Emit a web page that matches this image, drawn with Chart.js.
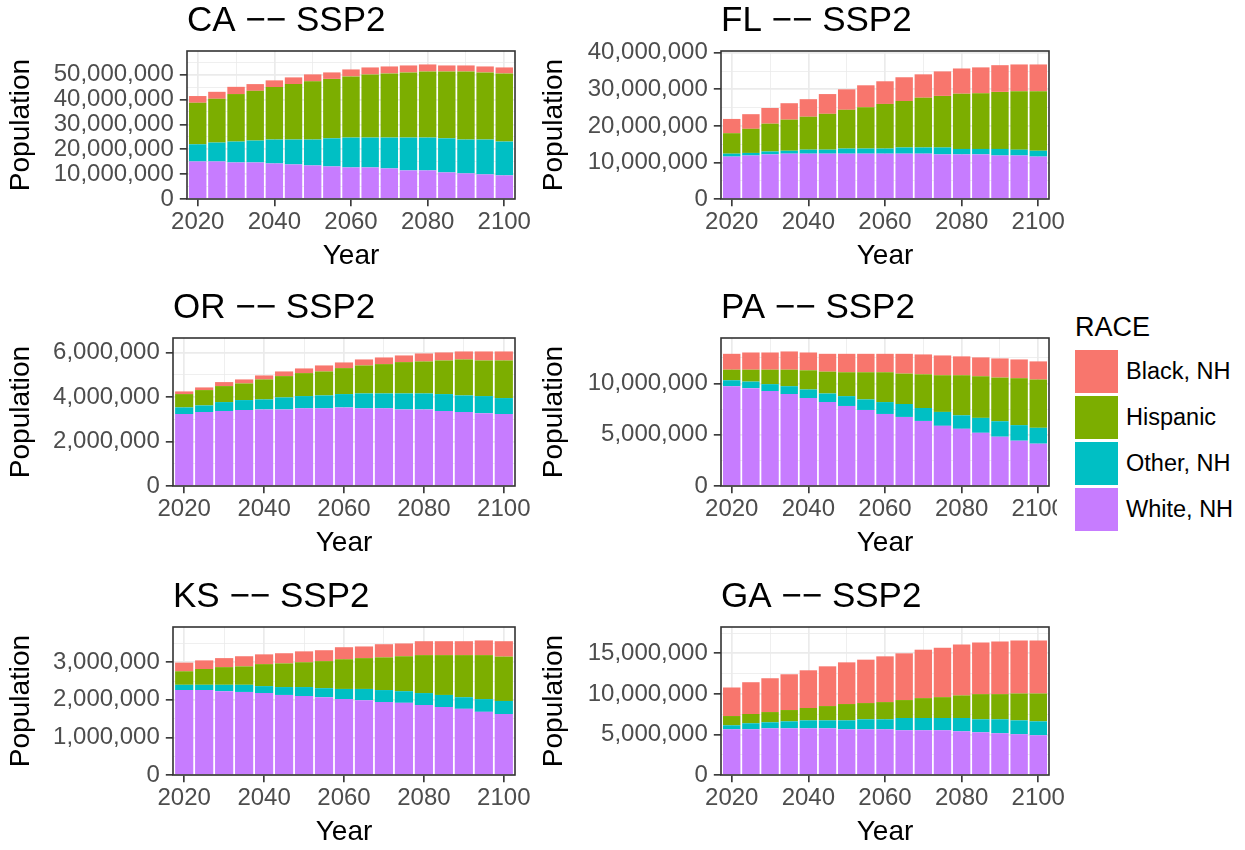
<!DOCTYPE html>
<html>
<head>
<meta charset="utf-8">
<script src="https://cdn.jsdelivr.net/npm/chart.js@4/dist/chart.umd.min.js"></script>
<style>
  html, body { margin:0; padding:0; background:#ffffff; width:1245px; height:850px; overflow:hidden; position:relative;
    font-family:"Liberation Sans", Arial, Helvetica, sans-serif; }
  .panel { position:absolute; overflow:hidden; }
  .panel canvas { display:block; }
  #legend { position:absolute; left:1075px; top:314px; color:#000; }
  #legend .ttl { font-size:27px; line-height:27px; height:27px; margin-bottom:9px; }
  #legend .row { display:flex; align-items:center; height:43px; margin-bottom:3px; }
  #legend .key { width:43px; height:43px; }
  #legend .lab { font-size:23.5px; line-height:43px; margin-left:8px; white-space:nowrap; }
</style>
</head>
<body>
<div id="legend"></div>
<script>
// ---------------- DATA ----------------
const YEARS = [2020, 2025, 2030, 2035, 2040, 2045, 2050, 2055, 2060, 2065, 2070, 2075, 2080, 2085, 2090, 2095, 2100];
const X_TICKS = [2020, 2040, 2060, 2080, 2100];
const RACES = ['Black, NH', 'Hispanic', 'Other, NH', 'White, NH'];
const RACE_COLORS = ['#F8766D', '#7CAE00', '#00BFC4', '#C77CFF'];

const CA_WHITE    = [15100000,15100000,14700000,14700000,14300000,13900000,13500000,13100000,12700000,12700000,12300000,11500000,11500000,10700000,10300000,9900000,9500000];
const CA_OTHER    = [6900000,7600000,8400000,8800000,9600000,10000000,10400000,11300000,12000000,12000000,12400000,13200000,13200000,13700000,13600000,14000000,13600000];
const CA_HISPANIC = [16700000,17600000,19100000,20000000,21100000,22300000,23400000,23900000,24600000,25400000,25800000,26200000,26600000,26900000,27400000,27000000,27400000];
const CA_BLACK    = [2700000,2800000,2900000,2700000,2700000,2700000,2800000,2600000,2800000,2800000,2800000,2800000,2800000,2400000,2400000,2400000,2400000];
const CA_Y_TICKS  = [0, 10000000, 20000000, 30000000, 40000000, 50000000];

const FL_WHITE    = [11600000,11900000,12200000,12400000,12400000,12400000,12400000,12400000,12400000,12400000,12400000,12200000,12200000,12200000,11900000,11900000,11600000];
const FL_OTHER    = [800000,700000,800000,800000,1100000,1100000,1400000,1400000,1400000,1700000,1700000,1900000,1500000,1500000,1800000,1600000,1600000];
const FL_HISPANIC = [5600000,6600000,7600000,8500000,9000000,9800000,10600000,11300000,12200000,12700000,13600000,14100000,15100000,15200000,15600000,16000000,16300000];
const FL_BLACK    = [3900000,4000000,4300000,4500000,4800000,5400000,5600000,6000000,6200000,6500000,6400000,6700000,6900000,7100000,7300000,7300000,7300000];
const FL_Y_TICKS  = [0, 10000000, 20000000, 30000000, 40000000];

const OR_WHITE    = [3240000,3330000,3375000,3420000,3450000,3450000,3500000,3500000,3540000,3500000,3500000,3450000,3450000,3375000,3330000,3280000,3240000];
const OR_OTHER    = [300000,300000,405000,450000,450000,540000,550000,580000,600000,670000,670000,720000,720000,765000,750000,770000,720000];
const OR_HISPANIC = [600000,690000,720000,750000,900000,960000,1035000,1080000,1170000,1260000,1320000,1410000,1440000,1515000,1620000,1605000,1695000];
const OR_BLACK    = [120000,120000,180000,180000,180000,210000,210000,270000,255000,270000,300000,300000,360000,360000,360000,405000,405000];
const OR_Y_TICKS  = [0, 2000000, 4000000, 6000000];

const PA_WHITE    = [9740000,9550000,9260000,8970000,8580000,8190000,7810000,7420000,7030000,6740000,6350000,5870000,5580000,5190000,4810000,4420000,4130000];
const PA_OTHER    = [580000,640000,680000,770000,840000,840000,960000,1030000,1160000,1260000,1260000,1360000,1320000,1460000,1510000,1520000,1550000];
const PA_HISPANIC = [1030000,1160000,1410000,1610000,1870000,2130000,2330000,2650000,2910000,2970000,3290000,3580000,3910000,4060000,4260000,4580000,4710000];
const PA_BLACK    = [1550000,1680000,1680000,1780000,1740000,1740000,1800000,1800000,1800000,1930000,1940000,1930000,1840000,1840000,1870000,1830000,1770000];
const PA_Y_TICKS  = [0, 5000000, 10000000];

const KS_WHITE    = [2260000,2260000,2230000,2210000,2180000,2130000,2100000,2070000,2020000,1990000,1940000,1920000,1860000,1810000,1760000,1680000,1620000];
const KS_OTHER    = [140000,140000,170000,190000,185000,210000,240000,240000,270000,300000,320000,310000,320000,320000,310000,340000,350000];
const KS_HISPANIC = [360000,420000,470000,490000,585000,630000,660000,720000,790000,820000,870000,930000,1010000,1060000,1120000,1170000,1180000];
const KS_BLACK    = [230000,230000,240000,270000,260000,270000,290000,290000,320000,310000,350000,340000,370000,370000,370000,390000,410000];
const KS_Y_TICKS  = [0, 1000000, 2000000, 3000000];

const GA_WHITE    = [5640000,5640000,5760000,5760000,5760000,5760000,5640000,5640000,5640000,5520000,5520000,5520000,5390000,5270000,5150000,5030000,4900000];
const GA_OTHER    = [490000,740000,740000,860000,980000,980000,1100000,1230000,1230000,1510000,1510000,1510000,1640000,1600000,1720000,1710000,1720000];
const GA_HISPANIC = [1140000,1140000,1260000,1390000,1520000,1760000,2010000,2000000,2120000,2210000,2450000,2570000,2780000,3100000,3100000,3310000,3430000];
const GA_BLACK    = [3520000,3920000,4170000,4410000,4650000,4900000,5140000,5350000,5640000,5760000,5970000,6090000,6290000,6380000,6500000,6540000,6540000];
const GA_Y_TICKS  = [0, 5000000, 10000000, 15000000];

// ---------------- LAYOUT / STYLE ----------------
Chart.defaults.font.family = '"Liberation Sans", Arial, Helvetica, sans-serif';
Chart.defaults.animation = false;

const GRID = '#EBEBEB', DARK = '#333333', TICK_TXT = '#4D4D4D';
const CANVAS_H = 274, X_MIN = 2017.2, X_MAX = 2102.8, PAD_R = 23;

const PANELS = [
  {title:'CA \u2212\u2212 SSP2', s:[CA_WHITE, CA_OTHER, CA_HISPANIC, CA_BLACK], yTicks:CA_Y_TICKS, left:0,   top:-1,  right:515,  yw:187},
  {title:'FL \u2212\u2212 SSP2', s:[FL_WHITE, FL_OTHER, FL_HISPANIC, FL_BLACK], yTicks:FL_Y_TICKS, left:533, top:-1,  right:1049, yw:188},
  {title:'OR \u2212\u2212 SSP2', s:[OR_WHITE, OR_OTHER, OR_HISPANIC, OR_BLACK], yTicks:OR_Y_TICKS, left:0,   top:286, right:515,  yw:173},
  {title:'PA \u2212\u2212 SSP2', s:[PA_WHITE, PA_OTHER, PA_HISPANIC, PA_BLACK], yTicks:PA_Y_TICKS, left:533, top:286, right:1049, yw:188, clipRight:1057},
  {title:'KS \u2212\u2212 SSP2', s:[KS_WHITE, KS_OTHER, KS_HISPANIC, KS_BLACK], yTicks:KS_Y_TICKS, left:0,   top:575, right:515,  yw:173},
  {title:'GA \u2212\u2212 SSP2', s:[GA_WHITE, GA_OTHER, GA_HISPANIC, GA_BLACK], yTicks:GA_Y_TICKS, left:533, top:575, right:1049, yw:188},
];

// stacking order bottom -> top : White, Other, Hispanic, Black
const STACK_ORDER = [3, 2, 1, 0];

const panelBorder = {
  id: 'panelBorder',
  afterDatasetsDraw(chart) {
    const {ctx, chartArea: a} = chart;
    ctx.save();
    ctx.strokeStyle = DARK;
    ctx.lineWidth = 1.6;
    ctx.strokeRect(a.left, a.top, a.right - a.left, a.bottom - a.top);
    ctx.restore();
  }
};

PANELS.forEach(p => {
  const cw = p.right + PAD_R - p.left;
  const wrap = document.createElement('div');
  wrap.className = 'panel';
  wrap.style.left = p.left + 'px';
  wrap.style.top = p.top + 'px';
  wrap.style.width = ((p.clipRight ? p.clipRight - p.left : cw)) + 'px';
  wrap.style.height = CANVAS_H + 'px';
  const cv = document.createElement('canvas');
  cv.width = cw; cv.height = CANVAS_H;
  cv.style.width = cw + 'px'; cv.style.height = CANVAS_H + 'px';
  wrap.appendChild(cv);
  document.body.appendChild(wrap);

  const totals = YEARS.map((_, i) => p.s.reduce((acc, arr) => acc + arr[i], 0));
  const yMax = Math.max(...totals) * 1.1;
  const yStep = p.yTicks[1] - p.yTicks[0];
  const xStep = X_TICKS[1] - X_TICKS[0];
  const yMajor = v => p.yTicks.includes(v);
  const xMajor = v => X_TICKS.includes(v);

  const datasets = STACK_ORDER.map((ri, k) => ({
    label: RACES[ri],
    data: YEARS.map((yr, i) => ({x: yr, y: p.s[k][i]})),
    backgroundColor: RACE_COLORS[ri],
    borderWidth: 0,
    barPercentage: 0.91,
    categoryPercentage: 1.0
  }));

  new Chart(cv, {
    type: 'bar',
    data: { datasets },
    plugins: [panelBorder],
    options: {
      responsive: false,
      animation: false,
      layout: { padding: { left: 0, top: 0, right: PAD_R, bottom: 0 } },
      plugins: {
        legend: { display: false },
        tooltip: { enabled: false },
        title: {
          display: true, text: p.title, align: 'start', fullSize: false, color: '#000000',
          font: { size: 35, weight: 'normal', lineHeight: 1.2 },
          padding: { top: 1, bottom: 9 }
        }
      },
      scales: {
        x: {
          type: 'linear', min: X_MIN, max: X_MAX, offset: false, stacked: true,
          afterBuildTicks: s => {
            const t = [];
            for (let v = X_TICKS[0]; v <= X_TICKS[X_TICKS.length - 1]; v += xStep / 2) t.push({value: v});
            s.ticks = t;
          },
          grid: {
            offset: false, drawTicks: true, tickLength: 7.2, tickWidth: 1.6,
            color: GRID,
            lineWidth: c => (c.tick && xMajor(c.tick.value)) ? 1.7 : 0.8,
            tickColor: c => (c.tick && xMajor(c.tick.value)) ? DARK : 'rgba(0,0,0,0)'
          },
          border: { display: false },
          ticks: {
            autoSkip: false, maxRotation: 0, minRotation: 0, padding: 2, color: TICK_TXT,
            font: { size: 24 },
            callback: v => xMajor(v) ? String(v) : ''
          },
          title: { display: true, text: 'Year', color: '#000000', font: { size: 28, lineHeight: 1.2 }, padding: { top: 0, bottom: 0 } },
          afterFit: s => { s.height = 74; }
        },
        y: {
          type: 'linear', min: 0, max: yMax, stacked: true,
          afterBuildTicks: s => {
            const t = [];
            for (let v = 0; v <= yMax; v += yStep / 2) t.push({value: v});
            s.ticks = t;
          },
          grid: {
            drawTicks: true, tickLength: 7.2, tickWidth: 1.6,
            color: GRID,
            lineWidth: c => (c.tick && yMajor(c.tick.value)) ? 1.7 : 0.8,
            tickColor: c => (c.tick && yMajor(c.tick.value)) ? DARK : 'rgba(0,0,0,0)'
          },
          border: { display: false },
          ticks: {
            autoSkip: false, padding: 6, color: TICK_TXT,
            font: { size: 24 },
            callback: v => yMajor(v) ? Number(v).toLocaleString('en-US') : ''
          },
          title: { display: true, text: 'Population', color: '#000000', font: { size: 28, lineHeight: 1.2 }, padding: { top: 4.2, bottom: 0 } },
          afterFit: s => { s.width = p.yw; }
        }
      }
    }
  });
});

// ---------------- LEGEND ----------------
const lg = document.getElementById('legend');
const ttl = document.createElement('div');
ttl.className = 'ttl'; ttl.textContent = 'RACE';
lg.appendChild(ttl);
RACES.forEach((r, i) => {
  const row = document.createElement('div'); row.className = 'row';
  const key = document.createElement('div'); key.className = 'key'; key.style.background = RACE_COLORS[i];
  const lab = document.createElement('div'); lab.className = 'lab'; lab.textContent = r;
  row.appendChild(key); row.appendChild(lab); lg.appendChild(row);
});
</script>
</body>
</html>
